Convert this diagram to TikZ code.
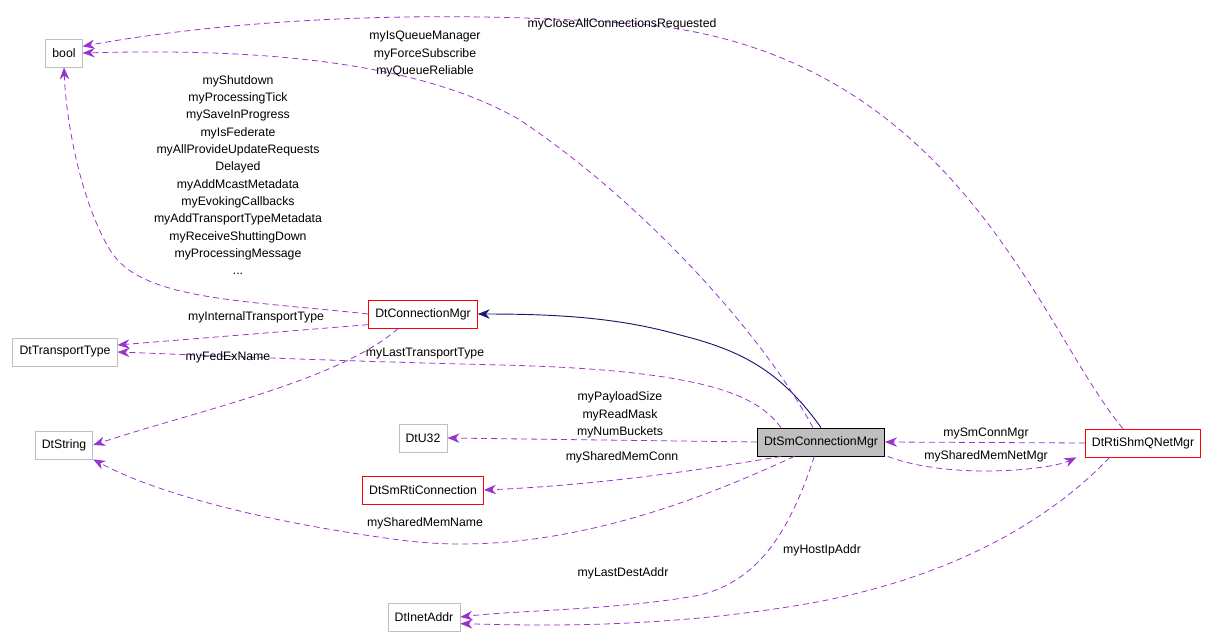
\documentclass[tikz,border=0pt]{standalone}
\usepackage{fontspec}
\setmainfont{Liberation Sans}
\usetikzlibrary{arrows.meta}
\definecolor{edgepurple}{HTML}{9A32CD}
\definecolor{inheritnavy}{HTML}{191970}
\definecolor{boxred}{HTML}{FF0000}
\definecolor{boxgray}{HTML}{BFBFBF}

\begin{document}
\begin{tikzpicture}[x=0.75pt,y=-0.75pt,
  font=\fontsize{9.2}{13}\selectfont,
  cls/.style={draw=boxgray, fill=white, line width=0.6pt, inner xsep=5pt, inner ysep=0pt, minimum height=21pt},
  redcls/.style={cls, draw=boxred},
  member/.style={draw=edgepurple, dash pattern=on 4.5pt off 3pt, line width=0.6pt, -{Stealth[length=9pt,width=7pt]}},
  inherit/.style={draw=inheritnavy, line width=0.7pt, -{Stealth[length=9pt,width=7pt]}},
  lbl/.style={align=center, inner sep=1pt}]
				% frame
				\useasboundingbox (0,0) rectangle (1216,638);
				
				% classes
				\node[cls] (bool) at (64,53) {bool};
				\node[cls] (ttype) at (65,352) {DtTransportType};
				\node[cls] (str) at (64,445) {DtString};
				\node[cls] (u32) at (423,438) {DtU32};
				\node[cls] (inet) at (424,617) {DtInetAddr};
				\node[redcls] (rticonn) at (423,490) {DtSmRtiConnection};
				\node[redcls] (connmgr) at (423,314) {DtConnectionMgr};
				\node[cls, draw=black, fill=boxgray] (smmgr) at (821,442) {DtSmConnectionMgr};
				\node[redcls] (netmgr) at (1143,443) {DtRtiShmQNetMgr};
				
				% inheritance
				\draw[inherit] (smmgr.north) .. controls (780,370) and (740,350) .. (680,335) .. controls (620,318) and (560,314) .. (connmgr.east);
				
				% members of DtConnectionMgr
				\draw[member] (connmgr.west) .. controls (240,300) and (140,300) .. (110,250) .. controls (80,200) and (66,120) .. (bool.south);
				\draw[member] ([yshift=-8pt]connmgr.west) -- (ttype.east |- 0,345) coordinate (tt1);
				\draw[member] (connmgr.south west) ++(30,0) coordinate (cs) .. controls (340,380) and (200,410) .. (str.east);
				
				% members of DtSmConnectionMgr
				\draw[member] ([xshift=-6pt]smmgr.north) .. controls (760,330) and (640,200) .. (520,120) .. controls (400,50) and (200,50) .. (bool.east);
				\draw[member] ([xshift=-30pt]smmgr.north) .. controls (760,400) and (720,370) .. (500,365) .. controls (300,360) and (200,355) .. (ttype.east);
				\draw[member] (smmgr.west) -- (u32.east);
				\draw[member] ([xshift=-30pt]smmgr.south) .. controls (700,470) and (600,485) .. (rticonn.east);
				\draw[member] ([xshift=-20pt]smmgr.south) .. controls (700,500) and (550,560) .. (400,540) .. controls (250,520) and (150,490) .. (str.south east);
				\draw[member] ([xshift=-5pt]smmgr.south) .. controls (790,530) and (760,580) .. (700,595) .. controls (620,610) and (520,610) .. (inet.east);
				\draw[member] ([xshift=50pt]smmgr.south) .. controls (950,480) and (1050,470) .. ([xshift=-50pt]netmgr.south);
				
				% members of DtRtiShmQNetMgr
				\draw[member] (netmgr.west) -- (smmgr.east);
				\draw[member] ([xshift=-15pt]netmgr.north) .. controls (1040,330) and (960,60) .. (650,25) .. controls (400,5) and (200,25) .. ([yshift=5pt]bool.east);
				\draw[member] ([xshift=-25pt]netmgr.south) .. controls (1050,520) and (950,580) .. (800,605) .. controls (650,630) and (520,625) .. ([yshift=-5pt]inet.east);
				
				% labels
				\node[lbl] (lbl1) at (238,175) {myShutdown\\myProcessingTick\\mySaveInProgress\\myIsFederate\\myAllProvideUpdateRequests\\Delayed\\myAddMcastMetadata\\myEvokingCallbacks\\myAddTransportTypeMetadata\\myReceiveShuttingDown\\myProcessingMessage\\...};
				\node[lbl] (lbl2) at (256,317) {myInternalTransportType};
				\node[lbl] (lbl3) at (228,357) {myFedExName};
				\node[lbl] (lbl4) at (425,54) {myIsQueueManager\\myForceSubscribe\\myQueueReliable};
				\node[lbl] (lbl5) at (425,354) {myLastTransportType};
				\node[lbl] (lbl6) at (620,415) {myPayloadSize\\myReadMask\\myNumBuckets};
				\node[lbl] (lbl7) at (622,457) {mySharedMemConn};
				\node[lbl] (lbl8) at (425,523) {mySharedMemName};
				\node[lbl] (lbl9) at (623,573) {myLastDestAddr};
				\node[lbl] (lbl10) at (986,456) {mySharedMemNetMgr};
				\node[lbl] (lbl11) at (986,433) {mySmConnMgr};
				\node[lbl] (lbl12) at (622,24) {myCloseAllConnectionsRequested};
				\node[lbl] (lbl13) at (822,550) {myHostIpAddr};
\end{tikzpicture}
\end{document}
